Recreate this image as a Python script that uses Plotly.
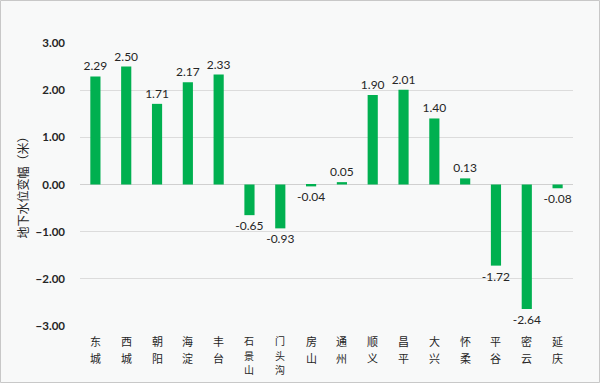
import plotly.graph_objects as go

districts = ["东城", "西城", "朝阳", "海淀", "丰台", "石景山", "门头沟", "房山",
             "通州", "顺义", "昌平", "大兴", "怀柔", "平谷", "密云", "延庆"]
changes = [2.29, 2.50, 1.71, 2.17, 2.33, -0.65, -0.93, -0.04,
           0.05, 1.90, 2.01, 1.40, 0.13, -1.72, -2.64, -0.08]
y_ticks = [-3, -2, -1, 0, 1, 2, 3]
y_title = "地下水位变幅（米）"

W, H = 600, 383
ml, mr, mt, mb = 80, 27, 43, 57
pw, ph = W - ml - mr, H - mt - mb

fig = go.Figure(go.Bar(
    x=districts,
    y=changes,
    marker=dict(color="#00B050", line=dict(width=0)),
    text=[f"{v:.2f}" for v in changes],
    textposition="outside",
    constraintext="none",
    cliponaxis=False,
    textfont=dict(family="Lato, Open Sans, sans-serif", size=12, color="#262626"),
    hoverinfo="skip",
))

# vertical (stacked) category labels, one character per line
annotations = []
for d in districts:
    n = len(d)
    step = 17.5 if n <= 2 else 14.5
    size = 11 if n <= 2 else 10
    for j, ch in enumerate(d):
        annotations.append(dict(
            x=d, xref="x", y=0, yref="paper", yanchor="middle", xanchor="center",
            text=ch, showarrow=False, yshift=-(14.5 + j * step),
            font=dict(family="Noto Sans CJK SC, sans-serif", size=size, color="#262626"),
        ))

fig.update_layout(
    width=W, height=H,
    margin=dict(l=ml, r=mr, t=mt, b=mb, pad=0),
    paper_bgcolor="#F8F9F9",
    plot_bgcolor="#F8F9F9",
    bargap=0.67,
    showlegend=False,
    annotations=annotations,
    font=dict(family="Noto Sans CJK SC, sans-serif", color="#262626"),
    shapes=[dict(type="rect", xref="paper", yref="paper",
                 x0=-(ml - 0.5) / pw, x1=1 + (mr - 0.5) / pw,
                 y0=-(mb - 0.5) / ph, y1=1 + (mt - 0.5) / ph,
                 line=dict(color="#C8C8C8", width=1), layer="below")],
)

fig.update_xaxes(
    showticklabels=False, automargin=False,
    showgrid=False, showline=False, ticks="",
)
fig.update_yaxes(
    range=[-3, 3], tickvals=y_ticks, tickformat=".2f", automargin=False,
    tickfont=dict(family="Lato, Open Sans, sans-serif", size=11.5, color="#262626", weight="bold"),
    showgrid=True, gridcolor="#DCDCDC", gridwidth=1,
    zeroline=True, zerolinecolor="#D0D0D0", zerolinewidth=1,
    ticks="", ticklabelstandoff=14, showline=False,
    title=dict(text=y_title, font=dict(family="Noto Sans CJK SC, sans-serif", size=12, color="#262626"),
               standoff=4),
)

fig.write_html("out.html", config={"displayModeBar": False},
               post_script="document.body.style.margin='0';document.body.style.overflow='hidden';")
